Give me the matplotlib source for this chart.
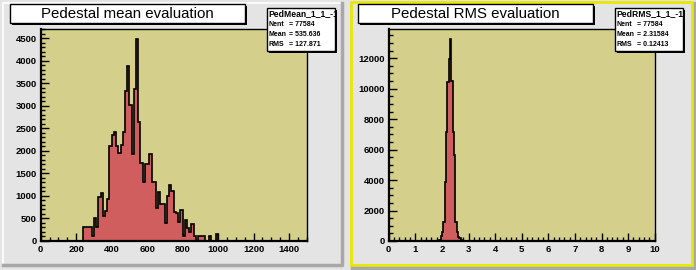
import numpy as np
import matplotlib
matplotlib.use("Agg")
import matplotlib.pyplot as plt
from matplotlib.patches import Rectangle
from matplotlib.lines import Line2D
from matplotlib.ticker import MultipleLocator

# ---- data ----
# left: pedestal mean, bins of 12.5 from 0 to 1500 (values listed from bin 19 = 237.5)
mean_first_bin = 19
mean_counts = [300, 300, 300, 300, 100, 500, 300, 985, 1060, 563, 667, 926,
               2118, 2360, 2415, 2118, 1948, 2133, 2415,
               3333, 3874, 3022, 1930, 3378, 4480, 2650,
               1726, 1318, 1703, 1703, 1926, 1304, 1304,
               726, 1096, 815, 815, 407, 1007, 1244, 1111,
               637, 615, 415, 689,
               118, 467, 281, 193, 370, 111, 0, 111, 111, 111, 0, 0, 111, 0, 0, 148]
# right: pedestal RMS, bins of 0.05 from 0 to 10 (values listed from bin 38 = 1.90)
rms_first_bin = 38
rms_counts = [66, 300, 611, 1270, 3897, 7183, 10470, 11940, 13255, 10535,
              7183, 5650, 1270, 611, 285, 175, 66, 30, 0, 0, 30]

mean_titles = ["Pedestal mean evaluation", "PedMean_1_1_-1", "77584", "535.636", "127.871"]
rms_titles = ["Pedestal RMS evaluation", "PedRMS_1_1_-1", "77584", "2.31584", "0.12413"]

W, H = 696, 270
BG = "#e4e4e4"
FRAME = "#d4d08b"
RED = "#d05e5e"
FONT = "Liberation Sans"

fig = plt.figure(figsize=(W / 100, H / 100), dpi=100, facecolor=BG)


def rect(x, y, w, h, **kw):
    # rectangle in pixel coords, origin at top-left
    r = Rectangle((x / W, 1 - (y + h) / H), w / W, h / H, transform=fig.transFigure, **kw)
    fig.add_artist(r)
    return r


def line(xs, ys, **kw):
    fig.add_artist(Line2D([x / W for x in xs], [1 - y / H for y in ys],
                          transform=fig.transFigure, **kw))


def txt(x, y, s, **kw):
    return fig.text(x / W, 1 - y / H, s, **kw)


# pad borders
line([3, 3, 341], [264, 3, 3], color="white", lw=1.2, zorder=-1)
line([3, 342, 342], [265, 265, 3], color="#a8a8a8", lw=2.5, zorder=-1)
line([351, 351, 692, 692, 351], [265, 1.5, 1.5, 265, 265], color="#e8e800", lw=2, zorder=-1)
line([352, 694.5, 694.5], [267.5, 267.5, 3], color="#a8a8a8", lw=2.5, zorder=-1)


def panel(x0, counts, first, width, xmax, xmaj, xmin, ymaj, ymin, titles):
    ax = fig.add_axes([x0 / W, (H - 241) / H, 266 / W, 212 / H])
    ax.set_facecolor(FRAME)
    nb = int(round(xmax / width))
    vals = np.zeros(nb)
    vals[first:first + len(counts)] = counts
    edges = np.linspace(0, xmax, nb + 1)
    ax.stairs(vals, edges, fill=True, color=RED, zorder=2)
    ax.stairs(vals, edges, color="black", lw=1.2, zorder=3)
    ax.set_xlim(0, xmax)
    ax.set_ylim(0, max(counts) * 1.05)
    ax.xaxis.set_major_locator(MultipleLocator(xmaj))
    ax.xaxis.set_minor_locator(MultipleLocator(xmin))
    ax.yaxis.set_major_locator(MultipleLocator(ymaj))
    ax.yaxis.set_minor_locator(MultipleLocator(ymin))
    ax.tick_params(which="both", direction="in", top=False, right=False, width=1, color="black")
    ax.tick_params(which="major", length=6, pad=3)
    ax.tick_params(which="minor", length=3)
    for lab in ax.get_xticklabels() + ax.get_yticklabels():
        lab.set_fontfamily(FONT)
        lab.set_fontweight("bold")
        lab.set_fontsize(6.8)
    for s in ["left", "bottom"]:
        ax.spines[s].set_linewidth(1.6)
    for s in ["top", "right"]:
        ax.spines[s].set_linewidth(1.0)

    # title box
    bx = x0 - 30.7
    rect(bx + 2, 6, 235, 19, facecolor="black", zorder=5)
    rect(bx, 4, 235, 19, facecolor="white", edgecolor="black", lw=1, zorder=6)
    txt(bx + 117.5, 14, titles[0], ha="center", va="center", fontsize=10.8,
        family=FONT, zorder=7)

    # stats box
    sx = x0 + 226.6
    rect(sx + 2, 10, 68, 42.5, facecolor="black", zorder=5)
    box = rect(sx, 8, 68, 42.5, facecolor="white", edgecolor="black", lw=1, zorder=6)
    t = txt(sx + 1.5, 13.5, titles[1], ha="left", va="center", fontsize=6.2,
            family=FONT, fontweight="bold", zorder=7)
    t.set_clip_path(box)
    rows = [("Nent", titles[2]), ("Mean", titles[3]), ("RMS", titles[4])]
    for k, (lab, v) in enumerate(rows):
        yy = 24 + k * 10.5
        txt(sx + 1.5, yy, lab, ha="left", va="center", fontsize=5.0,
            family=FONT, fontweight="bold", zorder=7)
        txt(sx + 21.5, yy, "= " + v, ha="left", va="center", fontsize=5.0,
            family=FONT, fontweight="bold", zorder=7)
    return ax


panel(40.7, mean_counts, mean_first_bin, 12.5, 1500, 200, 50, 500, 100, mean_titles)
panel(388.7, rms_counts, rms_first_bin, 0.05, 10, 1, 0.2, 2000, 500, rms_titles)

fig.savefig("out.png", dpi=100, facecolor=BG)
